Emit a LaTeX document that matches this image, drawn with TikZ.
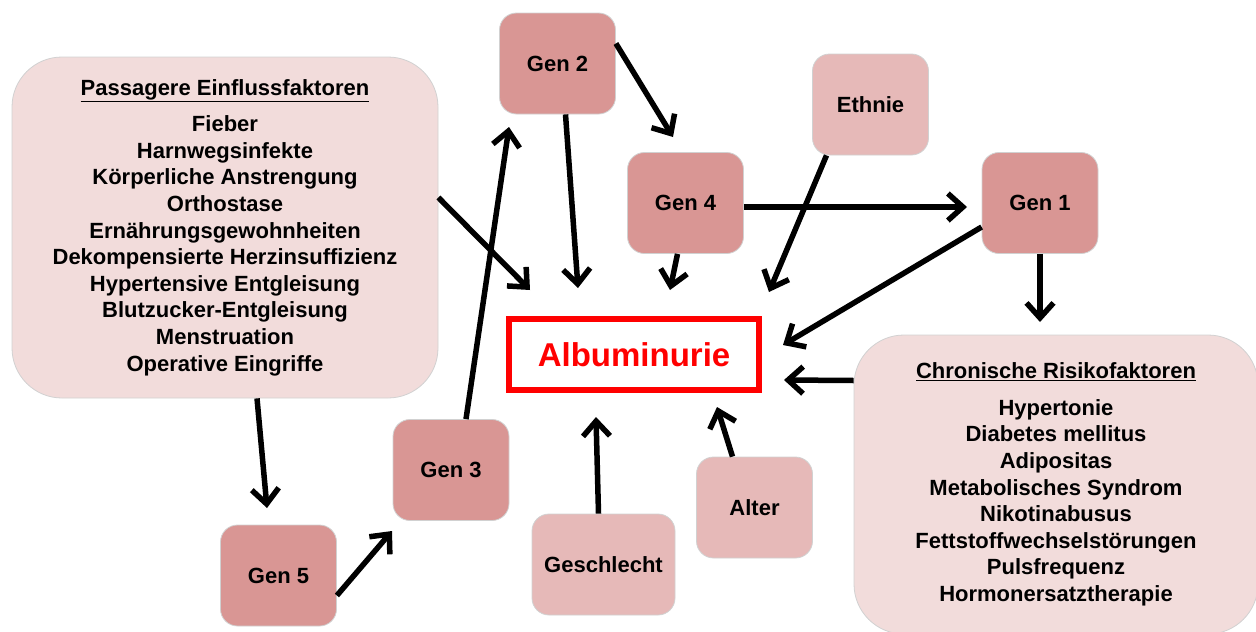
\documentclass[tikz,border=0pt]{standalone}
\usepackage{fontspec}
\setmainfont{Liberation Sans}
\usetikzlibrary{arrows.meta}

\definecolor{gendark}{HTML}{D99694}
\definecolor{genlight}{HTML}{E6B9B8}
\definecolor{boxpale}{HTML}{F2DCDB}

\begin{document}
\begin{tikzpicture}[x=1pt,y=-1pt,
    box/.style={draw=black!18, line width=0.8pt, rounded corners=17pt,
        minimum width=116pt, minimum height=101pt, inner sep=0pt,
        font=\bfseries\fontsize{22}{26.6}\selectfont},
    gen/.style={box, fill=gendark},
    factor/.style={box, fill=genlight},
    group/.style={box, fill=boxpale, rounded corners=50pt, align=center},
    arr/.style={line width=5.5pt, -{Straight Barb[length=15pt,width=27pt]}}]

    \useasboundingbox (0,0) rectangle (1256,632);

    \node[group, minimum width=426pt, minimum height=341pt] (pass) at (225,227.5)
        {\underline{Passagere Einflussfaktoren}\\[10pt]
         Fieber\\ Harnwegsinfekte\\ K\"orperliche Anstrengung\\ Orthostase\\
         Ern\"ahrungsgewohnheiten\\ Dekompensierte Herzinsuffizienz\\
         Hypertensive Entgleisung\\ Blutzucker-Entgleisung\\ Menstruation\\
         Operative Eingriffe};
    \node[group, minimum width=404pt, minimum height=299pt] (chron) at (1056,484.5)
        {\underline{Chronische Risikofaktoren}\\[10pt]
         Hypertonie\\ Diabetes mellitus\\ Adipositas\\ Metabolisches Syndrom\\
         Nikotinabusus\\ Fettstoffwechselst\"orungen\\ Pulsfrequenz\\
         Hormonersatztherapie};

    \node[gen] (gen2) at (557.5,63.5) {Gen 2};
    \node[gen] (gen4) at (685.5,203) {Gen 4};
    \node[gen] (gen1) at (1040,203) {Gen 1};
    \node[gen] (gen3) at (451,470) {Gen 3};
    \node[gen] (gen5) at (278.5,575.5) {Gen 5};
    \node[factor] (ethnie) at (870.5,104.5) {Ethnie};
    \node[factor, minimum width=143pt] (gesch) at (603.5,564.5) {Geschlecht};
    \node[factor] (alter) at (754.5,507.5) {Alter};

    \node[draw=red, line width=6pt, text=red, minimum width=250pt, minimum height=71pt,
        font=\bfseries\fontsize{33}{36}\selectfont] (alb) at (634,354.5) {Albuminurie};

    % arrow tips
    \coordinate (t-pass-alb) at (530,290);
    \coordinate (t-pass-gen5) at (267,508);
    \coordinate (t-gen5-gen3) at (392,531);
    \coordinate (t-gen3-gen2) at (509,127);
    \coordinate (t-gen2-alb) at (578,288);
    \coordinate (t-gen2-gen4) at (673,137);
    \coordinate (t-gen4-alb) at (670,290);
    \coordinate (t-gen4-gen1) at (967,207);
    \coordinate (t-ethnie-alb) at (769,292);
    \coordinate (t-gen1-alb) at (783,345);
    \coordinate (t-gen1-chron) at (1040,322);
    \coordinate (t-chron-alb) at (784,380);
    \coordinate (t-gesch-alb) at (596,417);
    \coordinate (t-alter-alb) at (717,407);

    \draw[arr] ([yshift=30pt]pass.east) -- (t-pass-alb);
    \draw[arr] ([xshift=32pt]pass.south) -- (t-pass-gen5);
    \draw[arr] ([yshift=-20pt]gen5.east) -- (t-gen5-gen3);
    \draw[arr] ([xshift=15pt]gen3.north) -- (t-gen3-gen2);
    \draw[arr] ([xshift=8pt]gen2.south) -- (t-gen2-alb);
    \draw[arr] ([yshift=20pt]gen2.east) -- (t-gen2-gen4);
    \draw[arr] ([xshift=-8pt]gen4.south) -- (t-gen4-alb);
    \draw[arr] ([yshift=-4pt]gen4.east) -- (t-gen4-gen1);
    \draw[arr] ([xshift=-44pt]ethnie.south) -- (t-ethnie-alb);
    \draw[arr] ([yshift=-24pt]gen1.west) -- (t-gen1-alb);
    \draw[arr] (gen1.south) -- (t-gen1-chron);
    \draw[arr] ([yshift=104pt]chron.west) -- (t-chron-alb);
    \draw[arr] ([xshift=-5pt]gesch.north) -- (t-gesch-alb);
    \draw[arr] ([xshift=-22pt]alter.north) -- (t-alter-alb);

\end{tikzpicture}
\end{document}
